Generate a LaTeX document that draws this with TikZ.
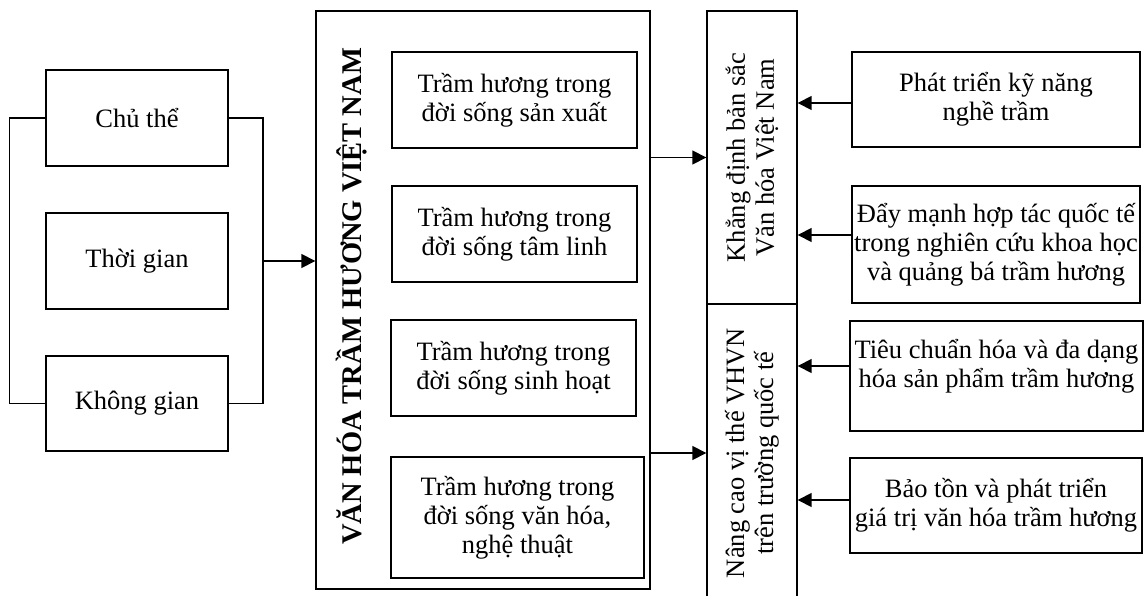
\documentclass[tikz,border=0pt]{standalone}
\usepackage{fontspec}
\setmainfont{Liberation Serif}
\usetikzlibrary{arrows.meta, positioning}
\tikzset{
  box/.style={draw, line width=1.4pt, align=center, inner sep=2pt}, % every framed box
  txt/.style={font=\fontsize{26.5}{29}\selectfont}, % normal text size
  arr/.style={-{Triangle[length=14pt, width=14pt]}, line width=1.6pt}, % filled arrow heads
  joint/.style={line width=1.6pt}, % plain connecting lines
}

\begin{document}
\begin{tikzpicture}[x=1pt, y=-1pt, every node/.style={txt}]
  \useasboundingbox (0,0) rectangle (1144,596);

  % left side
  \node[box, minimum width=182, minimum height=96] (chu_the) at (137,118) {Chủ thể};
  \node[box, minimum width=182, minimum height=96] (thoi_gian) at (137,261) {Thời gian};
  \node[box, minimum width=182, minimum height=95] (khong_gian) at (137,403.5) {Không gian};

  % big box in the middle
  \node[box, minimum width=334, minimum height=578] (van_hoa) at (483,300) {};
  \node[rotate=90, font=\fontsize{28.5}{30}\selectfont\bfseries] (title) at (352,296.5)
    {VĂN HÓA TRẦM HƯƠNG VIỆT NAM};
  \node[box, minimum width=245, minimum height=96] (tram_1) at (514.5,100)
    {Trầm hương trong\\đời sống sản xuất};
  \node[box, minimum width=245, minimum height=96] (tram_2) at (514.5,234)
    {Trầm hương trong\\đời sống tâm linh};
  \node[box, minimum width=245, minimum height=96] (tram_3) at (513.5,368)
    {Trầm hương trong\\đời sống sinh hoạt};
  \node[box, minimum width=253, minimum height=121] (tram_4) at (517.5,517.5)
    {Trầm hương trong\\đời sống văn hóa,\\nghệ thuật};

  % the two goals (rotated: north is the left side, south the right side)
  \node[box, rotate=90, minimum width=293, minimum height=90] (khang_dinh) at (752,157.5)
    {Khẳng định bản sắc\\Văn hóa Việt Nam};
  \node[box, rotate=90, minimum width=298, minimum height=90] (nang_cao) at (752,453)
    {Nâng cao vị thế VHVN\\trên trường quốc tế};

  % right side
  \node[box, minimum width=288, minimum height=95] (phat_trien) at (996,99.5)
    {Phát triển kỹ năng\\nghề trầm};
  \node[box, minimum width=288, minimum height=117] (day_manh) at (996,244.5)
    {Đẩy mạnh hợp tác quốc tế\\trong nghiên cứu khoa học\\và quảng bá trầm hương};
  \node[box, minimum width=293, minimum height=110] (tieu_chuan) at (996.5,376) {};
  \node[align=center] (tieu_chuan_text) at (996.5,366)
    {Tiêu chuẩn hóa và đa dạng\\hóa sản phẩm trầm hương};
  \node[box, minimum width=292, minimum height=95] (bao_ton) at (996,505.5)
    {Bảo tồn và phát triển\\giá trị văn hóa trầm hương};

  % connectors
  \coordinate (join) at (263,261);
  \draw[joint] (chu_the.west) -- ++(-36,0) |- (khong_gian.west);
  \draw[joint] (chu_the.east) -| (join) |- (khong_gian.east);
  \draw[arr] (join) -- (join -| van_hoa.west);

  \draw[arr] (van_hoa.east |- khang_dinh) -- (khang_dinh.north);
  \draw[arr] (van_hoa.east |- nang_cao) -- (nang_cao.north);

  \draw[arr] ([yshift=-3.5pt]phat_trien.west) -- ([yshift=-3.5pt]phat_trien.west -| khang_dinh.south);
  \draw[arr] ([yshift=9.5pt]day_manh.west) -- ([yshift=9.5pt]day_manh.west -| khang_dinh.south);
  \draw[arr] (tieu_chuan_text -| tieu_chuan.west) -- (tieu_chuan_text -| nang_cao.south);
  \draw[arr] ([yshift=5.5pt]bao_ton.west) -- ([yshift=5.5pt]bao_ton.west -| nang_cao.south);
\end{tikzpicture}
\end{document}
